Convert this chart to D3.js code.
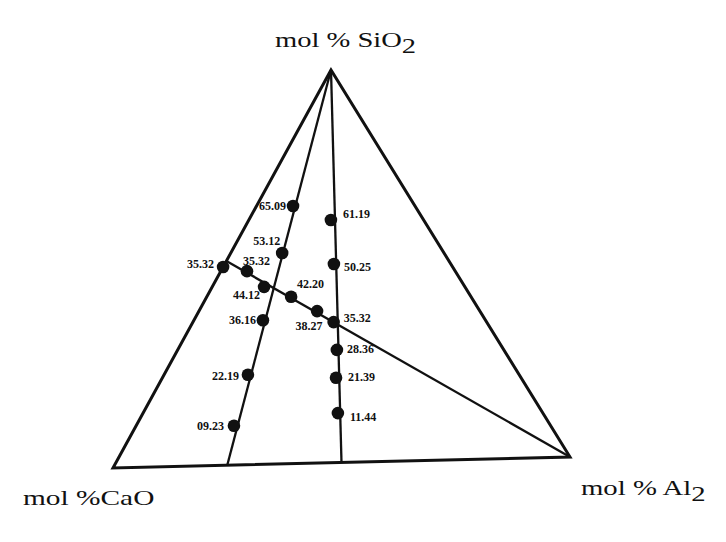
<!DOCTYPE html>
<html>
<head>
<meta charset="utf-8">
<script src="https://cdn.jsdelivr.net/npm/d3@7"></script>
<style>
  body { margin: 0; background: #fff; }
  svg { display: block; }
</style>
</head>
<body>
<svg id="chart" width="726" height="542"></svg>
<script>
// compositions are [SiO2, CaO, Al2O3] in mol %
const corners = [[100, 0, 0], [0, 100, 0], [0, 0, 100]];

// join lines drawn from/to
const guideFrom = [[100, 0, 0], [100, 0, 0], [52, 48, 0]];
const guideTo = [[0, 75, 25], [0, 50, 50], [0, 0, 100]];

// points on the left join (CaO:Al2O3 about 3:1)
const seriesA = [[65.6, 26.3, 8.1], [53.7, 34.9, 11.4], [36.7, 48.0, 15.3], [22.9, 58.5, 18.6], [10.0, 68.3, 21.7]];
const labelsA = ["65.09", "53.12", "36.16", "22.19", "09.23"];

// points on the middle join (CaO:Al2O3 about 1:1)
const seriesB = [[61.8, 20.0, 18.2], [50.6, 25.2, 24.2], [35.8, 33.0, 31.2], [28.7, 36.0, 35.3], [21.6, 39.9, 38.5], [12.6, 44.2, 43.2]];
const labelsB = ["61.19", "50.25", "35.32", "28.36", "21.39", "11.44"];

// points on the join towards Al2O3
const seriesC = [[50.5, 49.5, 0.0], [49.3, 44.9, 5.8], [45.2, 43.3, 11.5], [42.5, 38.8, 18.7], [38.7, 35.1, 26.2]];
const labelsC = ["35.32", "35.32", "44.12", "42.20", "38.27"];

// label placement: [dx, dy, anchor]
const placeA = [[-7, 0, "end"], [-2, -12, "end"], [-7, 0, "end"], [-9, 1, "end"], [-10, 0, "end"]];
const placeB = [[12, -6, "start"], [10, 3, "start"], [10, -4, "start"], [10, -1, "start"], [12, -1, "start"], [12, 4, "start"]];
const placeC = [[-9, -3, "end"], [-4, -10, "start"], [-4, 8, "end"], [6, -13, "start"], [-8, 15, "middle"]];

var svg = d3.select("#chart");

// corner positions of the scanned triangle
var apex = [331, 70], left = [113, 468], right = [570, 457];

var siX = d3.scaleLinear().domain([0, 100]).range([0, apex[0] - left[0]]),
    siY = d3.scaleLinear().domain([0, 100]).range([0, apex[1] - left[1]]),
    alX = d3.scaleLinear().domain([0, 100]).range([0, right[0] - left[0]]),
    alY = d3.scaleLinear().domain([0, 100]).range([0, right[1] - left[1]]);

function project(d) {
  return [left[0] + siX(d[0]) + alX(d[2]), left[1] + siY(d[0]) + alY(d[2])];
}

var line = d3.line().x(function(d) { return project(d)[0]; }).y(function(d) { return project(d)[1]; });

var g = svg.append("g");

g.append("path")
 .attr("d", line(corners) + "Z")
 .attr("fill", "none")
 .attr("stroke", "#111")
 .attr("stroke-width", 3)
 .attr("stroke-linejoin", "miter");

g.selectAll(".guide")
 .data(guideFrom)
 .enter().append("path")
 .attr("class", "guide")
 .attr("d", function(d, i) { return line([d, guideTo[i]]); })
 .attr("fill", "none")
 .attr("stroke", "#111")
 .attr("stroke-width", 2.3);

function drawSeries(data, labels, place) {
  g.selectAll(null)
   .data(data)
   .enter().append("circle")
   .attr("cx", function(d) { return project(d)[0]; })
   .attr("cy", function(d) { return project(d)[1]; })
   .attr("r", 6.3)
   .attr("fill", "#111");

  g.selectAll(null)
   .data(data)
   .enter().append("text")
   .attr("x", function(d, i) { return project(d)[0] + place[i][0]; })
   .attr("y", function(d, i) { return project(d)[1] + place[i][1]; })
   .attr("text-anchor", function(d, i) { return place[i][2]; })
   .attr("dominant-baseline", "central")
   .attr("font-family", "'Liberation Serif', 'Times New Roman', serif")
   .attr("font-weight", "bold")
   .attr("font-size", "12px")
   .attr("fill", "#111")
   .text(function(d, i) { return labels[i]; });
}

drawSeries(seriesA, labelsA, placeA);
drawSeries(seriesB, labelsB, placeB);
drawSeries(seriesC, labelsC, placeC);

// corner titles
function title(x, y, sx, main, sub) {
  var t = svg.append("text")
     .attr("transform", "translate(" + x + "," + y + ") scale(" + sx + ",1)")
     .attr("font-family", "'Liberation Serif', 'Times New Roman', serif")
     .attr("font-size", "21px")
     .attr("fill", "#111")
     .text(main);
  if (sub) {
    t.append("tspan").attr("dy", 6).text(sub);
  }
}

title(275, 47, 1.36, "mol % SiO", "2");
title(23, 505, 1.4, "mol %CaO", null);
title(581, 495, 1.37, "mol % Al", "2");
</script>
</body>
</html>
